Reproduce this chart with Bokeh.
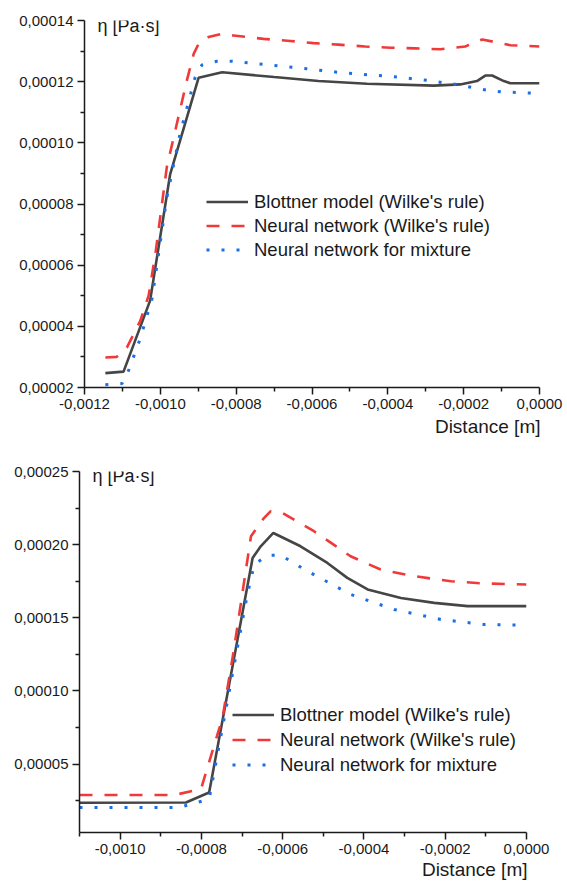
from bokeh.plotting import figure
from bokeh.layouts import column
from bokeh.models import FixedTicker, Label, Legend, LegendItem, Range1d, Title
from bokeh.core.properties import value
from bokeh.embed import file_html
from bokeh.resources import INLINE

FONT = "Liberation Sans"
BLACK = "#454545"
RED = "#f03a3a"
BLUE = "#1c6fe3"

series_names = ["Blottner model (Wilke's rule)", "Neural network (Wilke's rule)", "Neural network for mixture"]

# ---------------- top chart data ----------------
top_blottner_x = [-0.001145, -0.001097, -0.001027, -0.000974, -0.000899, -0.000837, -0.000700,
                  -0.000583, -0.000455, -0.000279, -0.000209, -0.000165, -0.000143, -0.000125,
                  -0.000094, -0.000077, 0.0]
top_blottner_y = [2.47e-5, 2.52e-5, 4.84e-5, 8.98e-5, 1.213e-4, 1.231e-4, 1.215e-4,
                  1.202e-4, 1.193e-4, 1.187e-4, 1.191e-4, 1.202e-4, 1.220e-4, 1.220e-4,
                  1.202e-4, 1.195e-4, 1.195e-4]

top_nn_wilke_x = [-0.001145, -0.001115, -0.001088, -0.001053, -0.001031, -0.001013, -0.000983,
                  -0.000930, -0.000912, -0.000899, -0.000873, -0.000842, -0.000807, -0.000728,
                  -0.000657, -0.000596, -0.000530, -0.000460, -0.000393, -0.000328, -0.000262,
                  -0.000196, -0.000151, -0.0000766, 0.0]
top_nn_wilke_y = [2.98e-5, 3.0e-5, 3.31e-5, 4.18e-5, 5.0e-5, 6.37e-5, 9.2e-5,
                  1.204e-4, 1.291e-4, 1.324e-4, 1.346e-4, 1.355e-4, 1.351e-4, 1.340e-4,
                  1.333e-4, 1.326e-4, 1.321e-4, 1.315e-4, 1.311e-4, 1.309e-4, 1.306e-4,
                  1.315e-4, 1.338e-4, 1.319e-4, 1.315e-4]

top_nn_mix_x = [-0.001145, -0.001101, -0.001084, -0.001053, -0.001022, -0.000983, -0.000948,
                -0.000908, -0.000890, -0.000850, -0.000811, -0.000771, -0.000692, -0.000613,
                -0.000534, -0.000455, -0.000376, -0.000292, -0.000253, -0.000213, -0.000174,
                -0.000134, -0.000094, 0.0]
top_nn_mix_y = [2.09e-5, 2.13e-5, 2.55e-5, 3.6e-5, 4.9e-5, 8.2e-5, 1.03e-4,
                1.215e-4, 1.255e-4, 1.267e-4, 1.267e-4, 1.262e-4, 1.252e-4, 1.242e-4,
                1.231e-4, 1.223e-4, 1.215e-4, 1.204e-4, 1.196e-4, 1.190e-4, 1.180e-4,
                1.171e-4, 1.166e-4, 1.162e-4]

top_x_ticks = [-0.0012, -0.0010, -0.0008, -0.0006, -0.0004, -0.0002, 0.0]
top_x_labels = ["-0,0012", "-0,0010", "-0,0008", "-0,0006", "-0,0004", "-0,0002", "0,0000"]
top_x_minor = [-0.0011, -0.0009, -0.0007, -0.0005, -0.0003, -0.0001]
top_y_ticks = [0.00002, 0.00004, 0.00006, 0.00008, 0.00010, 0.00012, 0.00014]
top_y_labels = ["0,00002", "0,00004", "0,00006", "0,00008", "0,00010", "0,00012", "0,00014"]
top_y_minor = [0.00003, 0.00005, 0.00007, 0.00009, 0.00011, 0.00013]

# ---------------- bottom chart data ----------------
bot_blottner_x = [-0.0011, -0.000838, -0.000781, -0.000674, -0.000654, -0.000623, -0.000556,
                  -0.000490, -0.000441, -0.000391, -0.000309, -0.000227, -0.000145, 0.0]
bot_blottner_y = [2.36e-5, 2.38e-5, 3.06e-5, 1.909e-4, 1.989e-4, 2.080e-4, 1.989e-4,
                  1.875e-4, 1.773e-4, 1.694e-4, 1.636e-4, 1.602e-4, 1.580e-4, 1.580e-4]

bot_nn_wilke_x = [-0.0011, -0.000867, -0.000801, -0.000748, -0.000720, -0.000678, -0.000646,
                  -0.000630, -0.0006005, -0.000523, -0.000433, -0.000359, -0.000277, -0.000186,
                  -0.000105, 0.0]
bot_nn_wilke_y = [2.89e-5, 2.89e-5, 3.3e-5, 8.18e-5, 1.284e-4, 2.058e-4, 2.182e-4,
                  2.228e-4, 2.216e-4, 2.092e-4, 1.921e-4, 1.830e-4, 1.785e-4, 1.750e-4,
                  1.735e-4, 1.728e-4]

bot_nn_mix_x = [-0.0011, -0.000855, -0.000781, -0.000687, -0.000670, -0.000637, -0.000605,
                -0.000539, -0.000433, -0.000326, -0.000211, -0.000105, 0.0]
bot_nn_mix_y = [2.04e-5, 2.04e-5, 2.61e-5, 1.66e-4, 1.864e-4, 1.928e-4, 1.928e-4,
                1.819e-4, 1.660e-4, 1.557e-4, 1.489e-4, 1.455e-4, 1.450e-4]

bot_x_ticks = [-0.0010, -0.0008, -0.0006, -0.0004, -0.0002, 0.0]
bot_x_labels = ["-0,0010", "-0,0008", "-0,0006", "-0,0004", "-0,0002", "0,0000"]
bot_x_minor = [-0.0011, -0.0009, -0.0007, -0.0005, -0.0003, -0.0001]
bot_y_ticks = [0.00005, 0.00010, 0.00015, 0.00020, 0.00025]
bot_y_labels = ["0,00005", "0,00010", "0,00015", "0,00020", "0,00025"]
bot_y_minor = [0.000025, 0.000075, 0.000125, 0.000175, 0.000225]

y_title = "η [Pa·s]"
x_title = "Distance [m]"


def make_chart(xr, yr, width, height, borders, xt, xl, xm, yt, yl, ym,
               data, legend_loc, legend_spacing, ytitle_pos, xtitle_standoff):
    bl, br, bt, bb = borders
    p = figure(width=width, height=height, x_range=Range1d(*xr), y_range=Range1d(*yr),
               output_backend="svg", toolbar_location=None,
               min_border_left=bl, min_border_right=br, min_border_top=bt, min_border_bottom=bb)
    p.frame_align = False
    p.outline_line_color = None
    p.xgrid.visible = False
    p.ygrid.visible = False
    p.background_fill_color = "white"
    p.border_fill_color = "white"

    p.xaxis.ticker = FixedTicker(ticks=xt, minor_ticks=xm)
    p.yaxis.ticker = FixedTicker(ticks=yt, minor_ticks=ym)
    p.xaxis.major_label_overrides = {t: s for t, s in zip(xt, xl)}
    p.yaxis.major_label_overrides = {t: s for t, s in zip(yt, yl)}
    for ax in (p.xaxis, p.yaxis):
        ax.axis_line_color = "#1a1a1a"
        ax.axis_line_width = 1.5
        ax.major_tick_line_color = "#1a1a1a"
        ax.minor_tick_line_color = "#1a1a1a"
        ax.major_tick_line_width = 1.5
        ax.minor_tick_line_width = 1.5
        ax.major_tick_in = 0
        ax.major_tick_out = 7
        ax.minor_tick_in = 0
        ax.minor_tick_out = 4
        ax.major_label_text_font = FONT
        ax.major_label_text_font_size = "15px"
        ax.major_label_text_color = "#1a1a1a"
    p.xaxis.major_label_standoff = 4
    p.yaxis.major_label_standoff = 4

    styles = [dict(line_color=BLACK, line_width=2.6),
              dict(line_color=RED, line_width=2.6, line_dash="13 12"),
              dict(line_color=BLUE, line_width=3, line_dash="3 12")]
    items = []
    for (xs, ys), st, name in zip(data, styles, series_names):
        r = p.line(xs, ys, **st)
        items.append(LegendItem(label=value(name), renderers=[r]))

    legend = Legend(items=items, location=legend_loc, orientation="vertical",
                    padding=0, margin=0, spacing=legend_spacing,
                    glyph_width=42, glyph_height=21, label_height=21, label_standoff=6,
                    label_text_font=FONT, label_text_font_size="18.5px",
                    label_text_color="#1a1a1a",
                    background_fill_alpha=0, border_line_color=None)
    p.add_layout(legend)

    p.add_layout(Label(x=ytitle_pos[0], y=ytitle_pos[1], x_units="screen", y_units="screen",
                       text=y_title, text_font=FONT, text_font_size="18px",
                       text_baseline="middle", text_align="left", text_color="#1a1a1a"))
    p.add_layout(Title(text=x_title, align="right", text_font=FONT, text_font_size="19px",
                       text_font_style="normal", text_color="#1a1a1a",
                       standoff=xtitle_standoff, offset=-1),
                 "below")
    return p


top = make_chart((-0.0012, 0.0), (0.00002, 0.00014), 566, 443, (84, 27, 20, 56),
                 top_x_ticks, top_x_labels, top_x_minor, top_y_ticks, top_y_labels, top_y_minor,
                 [(top_blottner_x, top_blottner_y), (top_nn_wilke_x, top_nn_wilke_y),
                  (top_nn_mix_x, top_nn_mix_y)],
                 (122, 126.5), 2, (13, 362), 4)

bottom = make_chart((-0.0011, 0.0), (0.0000033, 0.00025), 566, 439, (79, 40, 28, 50),
                    bot_x_ticks, bot_x_labels, bot_x_minor, bot_y_ticks, bot_y_labels, bot_y_minor,
                    [(bot_blottner_x, bot_blottner_y), (bot_nn_wilke_x, bot_nn_wilke_y),
                     (bot_nn_mix_x, bot_nn_mix_y)],
                    (153, 56.5), 3, (13, 356.5), 0)

layout = column(top, bottom, spacing=0)
open("out.html", "w").write(file_html(layout, INLINE))
